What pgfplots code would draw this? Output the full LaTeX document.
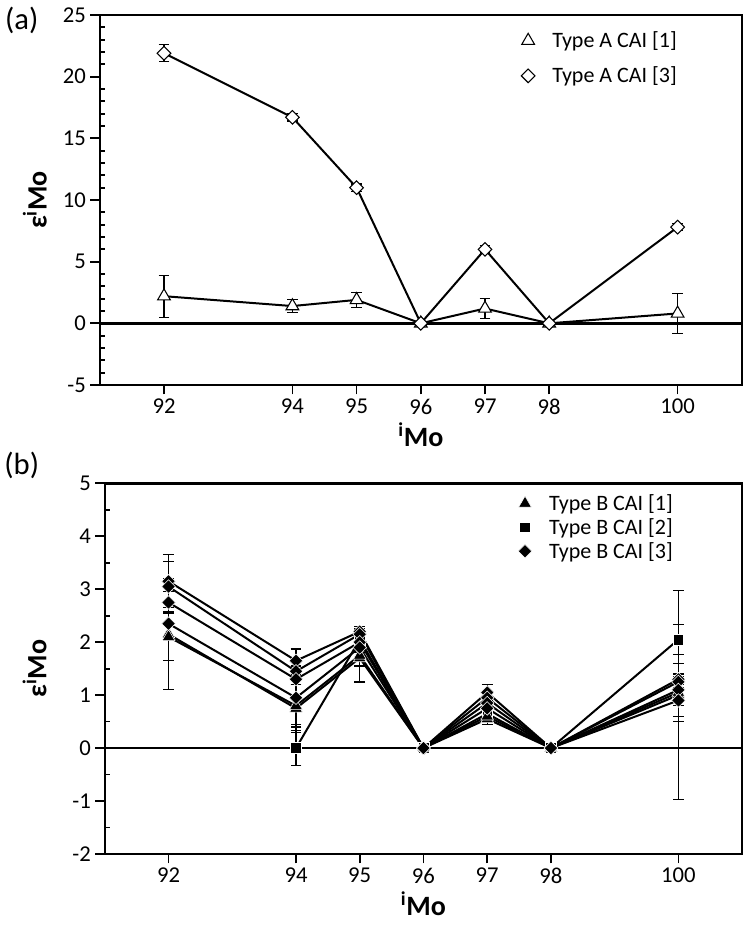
\documentclass[border=0pt]{standalone}
\usepackage{fontspec}
\setmainfont{Carlito}
\usepackage{pgfplots}
\pgfplotsset{compat=1.18}
\pgfplotsset{
  myax/.style={
    scale only axis,
    xmin=91, xmax=101,
    xtick={92,94,95,96,97,98,100},
    axis line style={line width=1.9pt},
    tick style={line width=1.3pt, black},
    tick align=outside,
    xtick pos=bottom, ytick pos=left,
    major tick length=7pt, minor tick length=4pt,
    minor y tick style={xshift=4pt},
    ticklabel style={font=\fontsize{17}{19}\selectfont},
    /pgf/number format/assume math mode=true,
    xlabel={\textbf{\textsuperscript{i}Mo}},
    ylabel={\textbf{ε\textsuperscript{i}Mo}},
    every axis x label/.style={at={(axis description cs:0.5,-0.135)}, anchor=center, font=\fontsize{21}{24}\selectfont},
    legend style={draw=none, fill=none, font=\fontsize{16.5}{19}\selectfont, anchor=north west,
      /tikz/every odd column/.append style={column sep=11pt}},
    legend cell align=left,
    error bars/y dir=both, error bars/y explicit,
    error bars/error bar style={line width=0.9pt, black},
    error bars/error mark options={rotate=90, mark size=4pt, line width=0.9pt, black},
  },
  mk/.style={legend image code/.code={\draw[##1] plot coordinates {(0.3cm,0cm)};}},
}
\begin{document}
\begin{tikzpicture}[x=1pt,y=1pt]
\path (0,0) rectangle (562.5,697.5);
\node[font=\fontsize{23}{25}\selectfont, anchor=center] at (15,682.5) {(a)};
\node[font=\fontsize{23}{25}\selectfont, anchor=center] at (15,348.75) {(b)};
% ---------------- panel (a)
\begin{axis}[myax,
  at={(73.5pt,408.75pt)}, anchor=south west,
  width=481.5pt, height=277.5pt,
  ymin=-5, ymax=25, ytick={-5,0,5,10,15,20,25}, minor y tick num=4,
  every axis y label/.style={at={(axis description cs:-0.101,0.5)}, rotate=90, anchor=center, font=\fontsize{21}{24}\selectfont},
  legend style={at={(0.65,0.97)}, row sep=9pt},
]
\addplot[line width=1.9pt, forget plot] coordinates {(91,0) (101,0)};
\addplot[mk, black, line width=1.5pt, mark=triangle*, mark size=5.5pt, mark options={fill=white, line width=0.8pt}]
  table[x=x, y=y, y error=e] {
x y e
92 2.2 1.7
94 1.4 0.55
95 1.9 0.6
96 0 0
97 1.2 0.8
98 0 0
100 0.8 1.6
};
\addlegendentry{Type A CAI [1]}
\addplot[mk, black, line width=1.5pt, mark=square*, mark size=3.6pt, mark options={rotate=45, fill=white, line width=0.8pt}]
  table[x=x, y=y, y error=e] {
x y e
92 21.9 0.7
94 16.7 0.3
95 11.0 0.3
96 0 0
97 6.0 0.3
98 0 0
100 7.8 0.3
};
\addlegendentry{Type A CAI [3]}
\end{axis}
% ---------------- panel (b)
\begin{axis}[myax,
  at={(77.25pt,57pt)}, anchor=south west,
  width=478pt, height=278pt,
  ymin=-2, ymax=5, ytick={-2,-1,0,1,2,3,4,5}, minor y tick num=1,
  every axis y label/.style={at={(axis description cs:-0.11,0.5)}, rotate=90, anchor=center, font=\fontsize{21}{24}\selectfont},
  legend style={at={(0.642,0.985)}, row sep=0.5pt},
  tri/.style={mk, black, line width=1.5pt, mark=triangle*, mark size=5.5pt, mark options={fill=black, draw=white, line width=0.4pt}},
  sq/.style={mk, black, line width=1.5pt, mark=square*, mark size=4pt, mark options={fill=black, draw=white, line width=0.4pt}},
  dia/.style={mk, black, line width=1.5pt, mark=square*, mark size=3.6pt, mark options={rotate=45, fill=black, draw=white, line width=0.4pt}},
]
\addplot[line width=1.9pt, forget plot] coordinates {(91,0) (101,0)};
% Type B [1]
\addplot[tri] table[x=x, y=y, y error=e] {
x y e
92 2.15 1.05
94 0.75 0.45
95 1.7 0.45
96 0 0
97 0.55 0.1
98 0 0
100 1.0 1.97
};
\addlegendentry{Type B CAI [1]}
% Type B [2]
\addplot[sq] table[x=x, y=y, y error=e] {
x y e
94 0.0 0.33
95 2.05 0.2
96 0 0
97 0.65 0.1
98 0 0
100 2.05 0.28
};
\addlegendentry{Type B CAI [2]}
% Type B [3]
\addplot[dia] table[x=x, y=y, y error=e] {
x y e
92 3.15 0.5
94 1.65 0.22
95 2.2 0.1
96 0 0
97 1.05 0.15
98 0 0
100 1.3 0.3
};
\addlegendentry{Type B CAI [3]}
\addplot[tri, forget plot] table[x=x, y=y, y error=e] {
x y e
92 2.1 0.45
94 0.8 0.4
95 1.75 0.2
96 0 0
97 0.6 0.1
98 0 0
100 1.05 0.55
};
\addplot[dia, forget plot] table[x=x, y=y, y error=e] {
x y e
92 3.05 0.48
94 1.45 0.1
95 2.15 0.1
96 0 0
97 0.95 0.1
98 0 0
100 1.25 0.1
};
\addplot[dia, forget plot] table[x=x, y=y, y error=e] {
x y e
92 2.75 0.2
94 1.3 0.1
95 2.0 0.1
96 0 0
97 0.85 0.1
98 0 0
100 1.1 0.3
};
\addplot[dia, forget plot] table[x=x, y=y, y error=e] {
x y e
92 2.35 0.3
94 0.95 0.5
95 1.9 0.1
96 0 0
97 0.75 0.1
98 0 0
100 0.9 0.3
};
\end{axis}
\end{tikzpicture}
\end{document}
